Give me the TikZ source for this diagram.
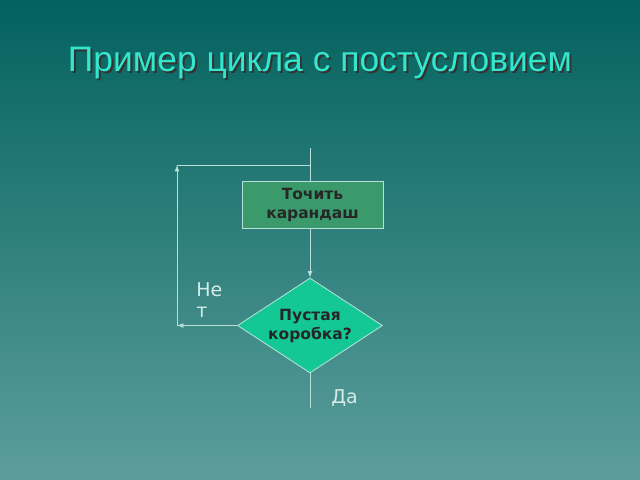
\documentclass[tikz,border=0pt]{standalone}
\usepackage{fontspec}
\setmainfont{Liberation Sans}
\newfontfamily\boxfont{DejaVu Sans}
\usetikzlibrary{shapes.geometric}
\tikzset{>=latex}
\definecolor{bgtop}{HTML}{03625E}
\definecolor{bgbot}{HTML}{5C9E9C}
\definecolor{titlecol}{HTML}{33E6CC}
\definecolor{boxfill}{HTML}{3A9A6C}
\definecolor{diafill}{HTML}{14C896}
\definecolor{edgecol}{HTML}{B8E0D8}
\tikzset{
  flow/.style={draw=edgecol, line width=0.6pt},
  blocktext/.style={align=center, font=\boxfont\bfseries\fontsize{11}{13.5}\selectfont, text=black!85},
  action/.style={flow, fill=boxfill, minimum width=141*0.025cm, minimum height=47*0.025cm,
    inner sep=0pt, blocktext},
  decide/.style={flow, diamond, fill=diafill, minimum width=145*0.025cm, minimum height=95*0.025cm,
    inner sep=0pt}
}
\tikzset{answer/.style={text=edgecol!60!white, font=\boxfont\fontsize{13.5}{15}\selectfont, inner sep=0pt}}
\begin{document}
\begin{tikzpicture}[x=0.025cm, y=-0.025cm]
	\shade[top color=bgtop, bottom color=bgbot] (0,0) rectangle (640,480);
	\useasboundingbox (0,0) rectangle (640,480);
	% title
	\node[text=black!80, font=\fontsize{25.2}{25.2}\selectfont] at (322,65) {Пример цикла с постусловием};
	\node (title) [text=titlecol, font=\fontsize{25.2}{25.2}\selectfont] at (320,63) {Пример цикла с постусловием};
	% blocks
	\node (sharpen) [action] at (312.5,204.5) {Точить\\карандаш};
	\node (empty) [decide] at (310,325.5) {};
	\node (emptytext) [blocktext] at (empty.center) {Пустая\\коробка?};
	\coordinate (start) at (310,148);
	\coordinate (joint) at (310,165);
	\coordinate (loopTop) at (177,165);
	\coordinate (loopBot) at (177,325.5);
	\coordinate (finish) at (310,408);
	% connectors
	\draw[flow] (start) -- (sharpen.north -| start);
	\draw[flow,->] (sharpen.south -| start) -- (empty.north);
	\draw[flow] (empty.south) -- (finish);
	\draw[flow,->] (empty.west) -- (loopBot);
	\draw[flow,->] (loopBot) -- (loopTop);
	\draw[flow] (loopTop) -- (joint);
	% labels
	\node (no) [answer, align=left, anchor=north west] at (196,282) {Не\\т};
	\node (yes) [answer, anchor=west] at (331,398) {Да};
\end{tikzpicture}
\end{document}
